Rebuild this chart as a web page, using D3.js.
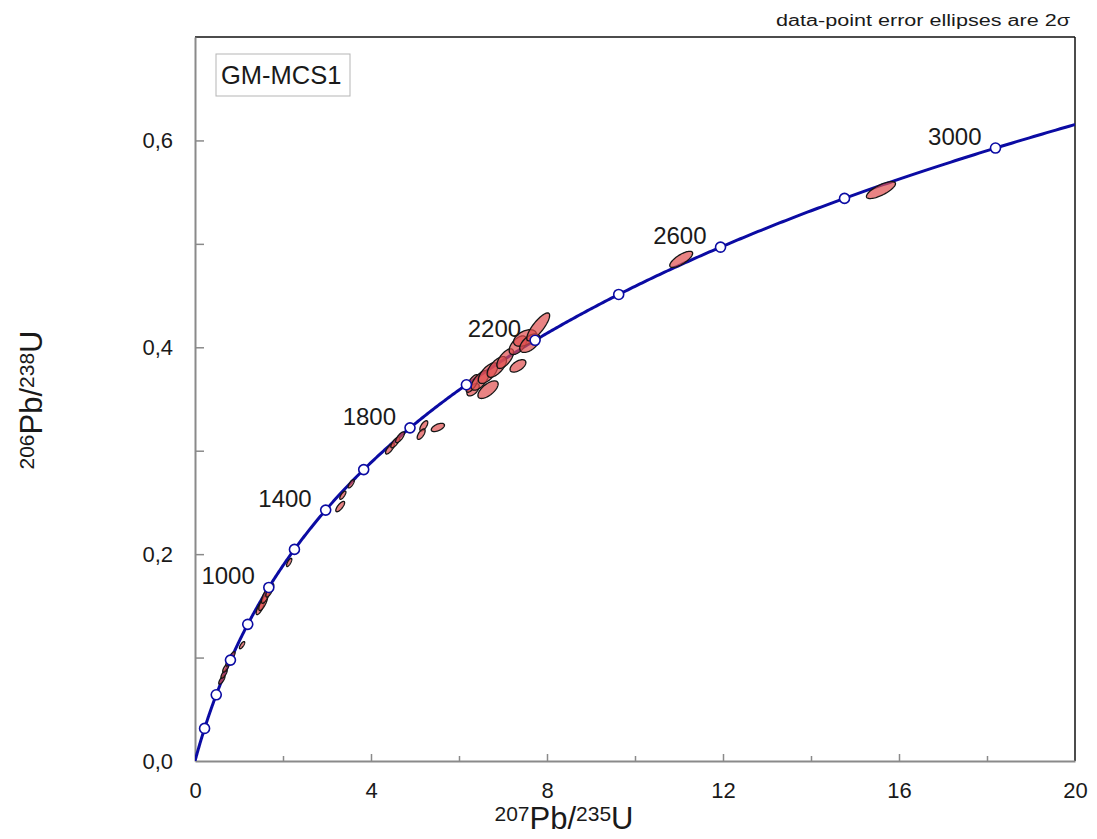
<!DOCTYPE html>
<html>
<head>
<meta charset="utf-8">
<script src="https://cdn.jsdelivr.net/npm/d3@7"></script>
<style>
  html, body { margin: 0; padding: 0; background: #fff; }
  svg { display: block; }
  text { font-family: "Liberation Sans", Arial, Helvetica, sans-serif; fill: #1a1a1a; }
</style>
</head>
<body>
<svg id="chart" width="1097" height="839"></svg>
<script>
// ---------- data ----------
const sampleName = "GM-MCS1";
const noteText = "data-point error ellipses are 2\u03C3";
const xTickValues = [0, 4, 8, 12, 16, 20];
const xMinorTicks = [2, 6, 10, 14, 18];
const yTickValues = [0, 0.2, 0.4, 0.6];
const yMinorTicks = [0.1, 0.3, 0.5];
const markerAges = [200, 400, 600, 800, 1000, 1200, 1400, 1600, 1800, 2000, 2200, 2400, 2600, 2800, 3000];
const labelAges = [1000, 1400, 1800, 2200, 2600, 3000];
const lambda238 = 1.55125e-4; // per Ma
const lambda235 = 9.8485e-4;  // per Ma

// data-point ellipses: 207Pb/235U, 206Pb/238U, 2σ errors, error correlation
const pb207u235 = [0.61, 0.66, 0.70, 0.77, 0.84, 1.07, 1.48, 1.55, 1.61, 1.70, 2.14,
                   3.30, 3.36, 3.55, 4.43, 4.55, 4.66, 5.20, 5.14, 5.52,
                   6.32, 6.66, 6.30, 6.48, 6.66, 6.86, 7.05, 7.34, 7.34, 7.50, 7.61, 7.80,
                   11.05, 15.59];
const pb206u238 = [0.0784, 0.0842, 0.0900, 0.0960, 0.1015, 0.112, 0.148, 0.153, 0.160, 0.165, 0.192,
                   0.246, 0.257, 0.268, 0.302, 0.308, 0.313, 0.324, 0.316, 0.3225,
                   0.359, 0.359, 0.365, 0.368, 0.375, 0.381, 0.389, 0.382, 0.402, 0.409, 0.404, 0.4197,
                   0.485, 0.552];
const err207 = [0.07, 0.07, 0.07, 0.07, 0.07, 0.06, 0.09, 0.10, 0.10, 0.09, 0.06,
                0.10, 0.07, 0.07, 0.10, 0.10, 0.10, 0.09, 0.09, 0.15,
                0.14, 0.23, 0.14, 0.20, 0.22, 0.22, 0.19, 0.18, 0.20, 0.26, 0.23, 0.26,
                0.26, 0.33];
const err206 = [0.0042, 0.0042, 0.0042, 0.0042, 0.0042, 0.0035, 0.0065, 0.0075, 0.0075, 0.0065, 0.0040,
                0.0050, 0.0040, 0.0040, 0.0052, 0.0052, 0.0052, 0.0050, 0.0050, 0.0040,
                0.0060, 0.0085, 0.0085, 0.0095, 0.0100, 0.0100, 0.0095, 0.0060, 0.0090, 0.0080, 0.0090, 0.0135,
                0.0078, 0.0082];
const errRho = [0.75, 0.75, 0.75, 0.75, 0.75, 0.75, 0.75, 0.75, 0.75, 0.75, 0.75,
                0.75, 0.75, 0.75, 0.75, 0.75, 0.75, 0.65, 0.65, 0.55,
                0.55, 0.65, 0.7, 0.65, 0.65, 0.65, 0.65, 0.55, 0.55, 0.45, 0.55, 0.82,
                0.75, 0.75];

// ---------- layout ----------
const svg = d3.select("#chart");
const L = 195, R = 1075, T = 37, B = 761;
const x = d3.scaleLinear().domain([0, 20]).range([L, R]);
const y = d3.scaleLinear().domain([0, 0.7]).range([B, T]);

const concX = t => Math.exp(lambda235 * t) - 1;
const concY = t => Math.exp(lambda238 * t) - 1;

svg.append("defs").append("clipPath").attr("id", "plotclip")
  .append("rect").attr("x", L).attr("y", T).attr("width", R - L).attr("height", B - T);

// frame: top & right black
svg.append("line").attr("x1", L).attr("x2", R).attr("y1", T).attr("y2", T)
  .attr("stroke", "#111").attr("stroke-width", 1.5);
svg.append("line").attr("x1", R).attr("x2", R).attr("y1", T).attr("y2", B)
  .attr("stroke", "#111").attr("stroke-width", 1.5);

// bottom axis
const gx = svg.append("g").attr("transform", `translate(0,${B})`)
  .call(d3.axisBottom(x).tickValues(xTickValues).tickSizeInner(-7).tickSizeOuter(0).tickPadding(21)
        .tickFormat(d3.format("d")));
gx.select(".domain").attr("stroke", "#8a8a8a").attr("stroke-width", 2);
gx.selectAll(".tick line").attr("stroke", "#8a8a8a").attr("stroke-width", 1.5);
gx.selectAll(".tick text").style("font-size", "22px").attr("fill", "#1a1a1a")
  .style("font-family", "'Liberation Sans', Arial, sans-serif");
gx.selectAll(".tick").filter(d => d === 0 || d === 20).select("line").remove();
const gxm = svg.append("g").attr("transform", `translate(0,${B})`)
  .call(d3.axisBottom(x).tickValues(xMinorTicks).tickSizeInner(-5).tickSizeOuter(0).tickFormat(""));
gxm.select(".domain").remove();
gxm.selectAll(".tick line").attr("stroke", "#8a8a8a").attr("stroke-width", 1.5);

// left axis
const fmtY = d => d3.format(".1f")(d).replace(".", ",");
const gy = svg.append("g").attr("transform", `translate(${L},0)`)
  .call(d3.axisLeft(y).tickValues(yTickValues).tickSizeInner(-9).tickSizeOuter(0).tickPadding(22)
        .tickFormat(fmtY));
gy.select(".domain").attr("stroke", "#8a8a8a").attr("stroke-width", 2);
gy.selectAll(".tick line").attr("stroke", "#8a8a8a").attr("stroke-width", 1.5);
gy.selectAll(".tick text").style("font-size", "22px").attr("fill", "#1a1a1a")
  .style("font-family", "'Liberation Sans', Arial, sans-serif");
gy.selectAll(".tick").filter(d => d === 0).select("line").remove();
const gym = svg.append("g").attr("transform", `translate(${L},0)`)
  .call(d3.axisLeft(y).tickValues(yMinorTicks).tickSizeInner(-9).tickSizeOuter(0).tickFormat(""));
gym.select(".domain").remove();
gym.selectAll(".tick line").attr("stroke", "#8a8a8a").attr("stroke-width", 1.5);

// concordia curve
const tMax = Math.log(1 + 20) / lambda235;
const ages = d3.range(0, tMax, 5).concat([tMax]);
const line = d3.line().x(t => x(concX(t))).y(t => y(concY(t)));
const plot = svg.append("g").attr("clip-path", "url(#plotclip)");
plot.append("path").attr("d", line(ages)).attr("fill", "none")
  .attr("stroke", "#0b0ba3").attr("stroke-width", 3);

// ellipses
const thetas = d3.range(0, 2 * Math.PI, Math.PI / 36);
const ellLine = d3.line().curve(d3.curveLinearClosed);
const ellData = pb207u235.map((v, i) => ({x: v, y: pb206u238[i], sx: err207[i], sy: err206[i], r: errRho[i]}));
plot.append("g").selectAll("path").data(ellData).join("path")
  .attr("d", e => ellLine(thetas.map(th => [
      x(e.x + e.sx * Math.cos(th)),
      y(e.y + e.sy * (e.r * Math.cos(th) + Math.sqrt(1 - e.r * e.r) * Math.sin(th)))
    ])))
  .attr("fill", "#e04e4e").attr("fill-opacity", 0.7)
  .attr("stroke", "#151515").attr("stroke-width", 1.3);

// age markers
svg.append("g").selectAll("circle").data(markerAges).join("circle")
  .attr("cx", t => x(concX(t))).attr("cy", t => y(concY(t))).attr("r", 5)
  .attr("fill", "#fff").attr("stroke", "#0b0ba3").attr("stroke-width", 1.6);

// age labels
svg.append("g").selectAll("text").data(labelAges).join("text")
  .attr("x", t => x(concX(t)) - 14).attr("y", t => y(concY(t)) - 3)
  .attr("text-anchor", "end").style("font-size", "24px").text(t => t);

// sample box
svg.append("rect").attr("x", 216).attr("y", 54).attr("width", 134).attr("height", 42)
  .attr("fill", "#fff").attr("stroke", "#b5b5b5").attr("stroke-width", 1);
svg.append("text").attr("x", 221).attr("y", 84).style("font-size", "25.5px").text(sampleName);

// note
svg.append("text").attr("x", 1070).attr("y", 26).attr("text-anchor", "end")
  .attr("textLength", 294).attr("lengthAdjust", "spacingAndGlyphs")
  .style("font-size", "16px").text(noteText);

// axis titles
function isoLabel(g, a, b) {
  const t = g.append("text").attr("text-anchor", "middle");
  t.append("tspan").attr("baseline-shift", "40%").style("font-size", "21px").text(a.mass);
  t.append("tspan").attr("baseline-shift", "0").style("font-size", "31px").text(a.el + "/");
  t.append("tspan").attr("baseline-shift", "40%").style("font-size", "21px").text(b.mass);
  t.append("tspan").attr("baseline-shift", "0").style("font-size", "31px").text(b.el);
  return t;
}
isoLabel(svg.append("g").attr("transform", "translate(564,829)"), {mass: "207", el: "Pb"}, {mass: "235", el: "U"});
isoLabel(svg.append("g").attr("transform", "translate(42,400) rotate(-90)"), {mass: "206", el: "Pb"}, {mass: "238", el: "U"});
</script>
</body>
</html>
